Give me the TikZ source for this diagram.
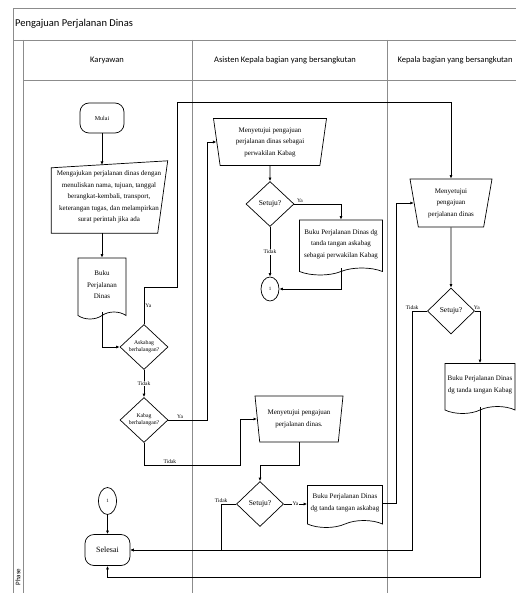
\documentclass[tikz,border=0pt]{standalone}
\usepackage{fontspec}
\setmainfont{Liberation Serif}
\newfontfamily\hdrfont{Carlito}
\usetikzlibrary{shapes.geometric,shapes.symbols,arrows.meta,calc}

\tikzset{
  lane/.style={draw=black!45, line width=0.9pt},
  arr/.style={-{Latex[length=3.5pt,width=3pt]}, line width=0.7pt},
  lbl/.style={font=\fontsize{5.5}{6}\selectfont, inner sep=1pt},
  txt/.style={font=\fontsize{7}{11.5}\selectfont, align=center, inner sep=1pt},
  term/.style={draw, line width=0.7pt, rounded corners=9pt, minimum width=44pt, minimum height=30pt},
  dec/.style={draw, line width=0.7pt, diamond, minimum width=48pt, minimum height=45pt, inner sep=0pt, align=center},
  manop/.style={draw, line width=0.7pt, trapezium, trapezium stretches body, txt},
  docu/.style={draw, line width=0.7pt, tape, tape bend top=none, tape bend height=7pt, txt},
  conn/.style={draw, line width=0.7pt, ellipse, inner sep=0pt, font=\fontsize{5}{6}\selectfont},
}

\begin{document}
\begin{tikzpicture}[x=1pt, y=-1pt]
        \useasboundingbox[fill=white] (0,0) rectangle (515,593);

        % pool and lanes
        \draw[lane] (13,8) rectangle (530,600);
        \draw[lane] (13,40) -- (530,40);
        \draw[lane] (23,40) -- (23,600);
        \draw[lane] (23,80) -- (530,80);
        \draw[lane] (192,40) -- (192,600);
        \draw[lane] (387,40) -- (387,600);
        \node[font=\hdrfont\fontsize{10.5}{12}\selectfont, anchor=west, inner sep=1pt] (title) at (14,24) {Pengajuan Perjalanan Dinas};
        \node[font=\hdrfont\fontsize{8.5}{10}\selectfont] (lkary) at (107,60) {Karyawan};
        \node[font=\hdrfont\fontsize{8.5}{10}\selectfont] (lasis) at (285,60) {Asisten Kepala bagian yang bersangkutan};
        \node[font=\hdrfont\fontsize{8.5}{10}\selectfont] (lkepa) at (455,60) {Kepala bagian yang bersangkutan};
        \node[font=\hdrfont\fontsize{7}{8}\selectfont, rotate=90, inner sep=0pt] (phase) at (18,577) {Phase};

        % Karyawan
        \node[term, font=\fontsize{6}{7}\selectfont] (mulai) at (102,118) {Mulai};
        \node[txt, minimum width=117pt, minimum height=72pt] (inp) at (109,197) {Mengajukan perjalanan dinas dengan\\menuliskan nama, tujuan, tanggal\\berangkat-kembali, transport,\\keterangan tugas, dan melampirkan\\surat perintah jika ada};
        \draw[line width=0.7pt] ($(inp.north west)+(1,7)$) -- (inp.north east) -- ($(inp.south east)+(-10,0)$) -- ($(inp.south west)+(1,0)$) -- cycle;
        \coordinate (inptop) at (102,165);
        \node[docu, minimum width=48pt, minimum height=61pt] (buku1) at (102,285) {Buku\\Perjalanan\\Dinas};
        \node[dec, font=\fontsize{5.7}{7}\selectfont] (d1) at (144,347) {Askabag\\berhalangan?};
        \node[dec, font=\fontsize{5.7}{7}\selectfont] (d2) at (144,420) {Kabag\\berhalangan?};
        \node[conn, minimum width=18pt, minimum height=27pt] (c2) at (107.5,501) {1};
        \node[term, font=\fontsize{8}{9}\selectfont, minimum width=45pt, minimum height=31pt] (selesai) at (107.5,550) {Selesai};

        % Asisten Kepala bagian
        \node[manop, trapezium left angle=102, trapezium right angle=102, minimum width=113pt, minimum height=47pt] (a1) at (270,142) {Menyetujui pengajuan\\perjalanan dinas sebagai\\perwakilan Kabag};
        \node[dec, font=\fontsize{7.5}{8}\selectfont] (s1) at (270,204) {Setuju?};
        \node[docu, minimum width=83pt, minimum height=55pt] (b2) at (341,244) {Buku Perjalanan Dinas dg\\tanda tangan askabag\\sebagai perwakilan Kabag};
        \node[conn, minimum width=18pt, minimum height=24pt] (c1) at (270,289) {1};
        \node[manop, trapezium left angle=103.5, trapezium right angle=103.5, minimum width=88pt, minimum height=46pt] (a2) at (299,419) {Menyetujui pengajuan\\perjalanan dinas.};
        \node[dec, font=\fontsize{7.5}{8}\selectfont, minimum width=47pt] (s2) at (260,504) {Setuju?};
        \node[docu, minimum width=75pt, minimum height=42pt] (b3) at (345,503) {Buku Perjalanan Dinas\\dg tanda tangan askabag};

        % Kepala bagian
        \node[manop, trapezium left angle=105, trapezium right angle=105, minimum width=82pt, minimum height=48pt] (k1) at (451,203) {Menyetujui\\pengajuan\\perjalanan dinas};
        \node[dec, font=\fontsize{7.5}{8}\selectfont, minimum width=47pt, minimum height=46pt] (k2) at (451,311) {Setuju?};
        \node[docu, minimum width=70pt, minimum height=50pt] (b4) at (480,385) {Buku Perjalanan Dinas\\dg tanda tangan Kabag};

        % Flow
        \draw[arr] (mulai) -- (inptop);
        \draw[arr] (buku1.north |- inp.south) -- (buku1.north);
        \draw[arr] (buku1.south) |- (d1.west);
        \draw[arr] (d1.north) -- node[lbl, right]{Ya} ++(0,-37) -| ++(33,-185) -| (k1.north);
        \draw[arr] (d1) -- node[lbl, fill=white]{Tidak} (d2);
        \draw[arr] (d2.east) -- node[lbl, above, pos=0.3]{Ya} ++(39,0) |- (a1.west);
        \draw[arr] (d2.south) -- ++(0,22) -- node[lbl, above, pos=0.27]{Tidak} ++(96,0) |- (a2.west);
        \draw[arr] (a1) -- (s1);
        \draw[arr] (s1.east) -| node[lbl, above, pos=0.06]{Ya} (b2.north);
        \draw[arr] (s1) -- node[lbl, fill=white]{Tidak} (c1);
        \draw[arr] (b2.south) |- (c1.east);
        \draw[arr] (a2.south) -- ++(0,23) -| (s2.north);
        \draw[arr] (s2.east) -- node[lbl, fill=white]{Ya} (s2.east -| b3.west);
        \draw[arr] (b3.east) -- ++(13,0) |- (k1.west);
        \draw[arr] (s2.west) -- ++(-15,0) node[lbl, above]{Tidak} |- (selesai.east);
        \draw[arr] (k1) -- (k2);
        \draw[arr] (k2.west) -- ++(-15,0) node[lbl, above]{Tidak} |- (selesai.east);
        \draw[arr] (k2.east) -| node[lbl, above, pos=0.2]{Ya} (b4.north);
        \draw[arr] (b4.south) |- ($(selesai.south)+(0,11)$) -- (selesai.south);
        \draw[arr] (c2) -- (selesai);
\end{tikzpicture}
\end{document}
